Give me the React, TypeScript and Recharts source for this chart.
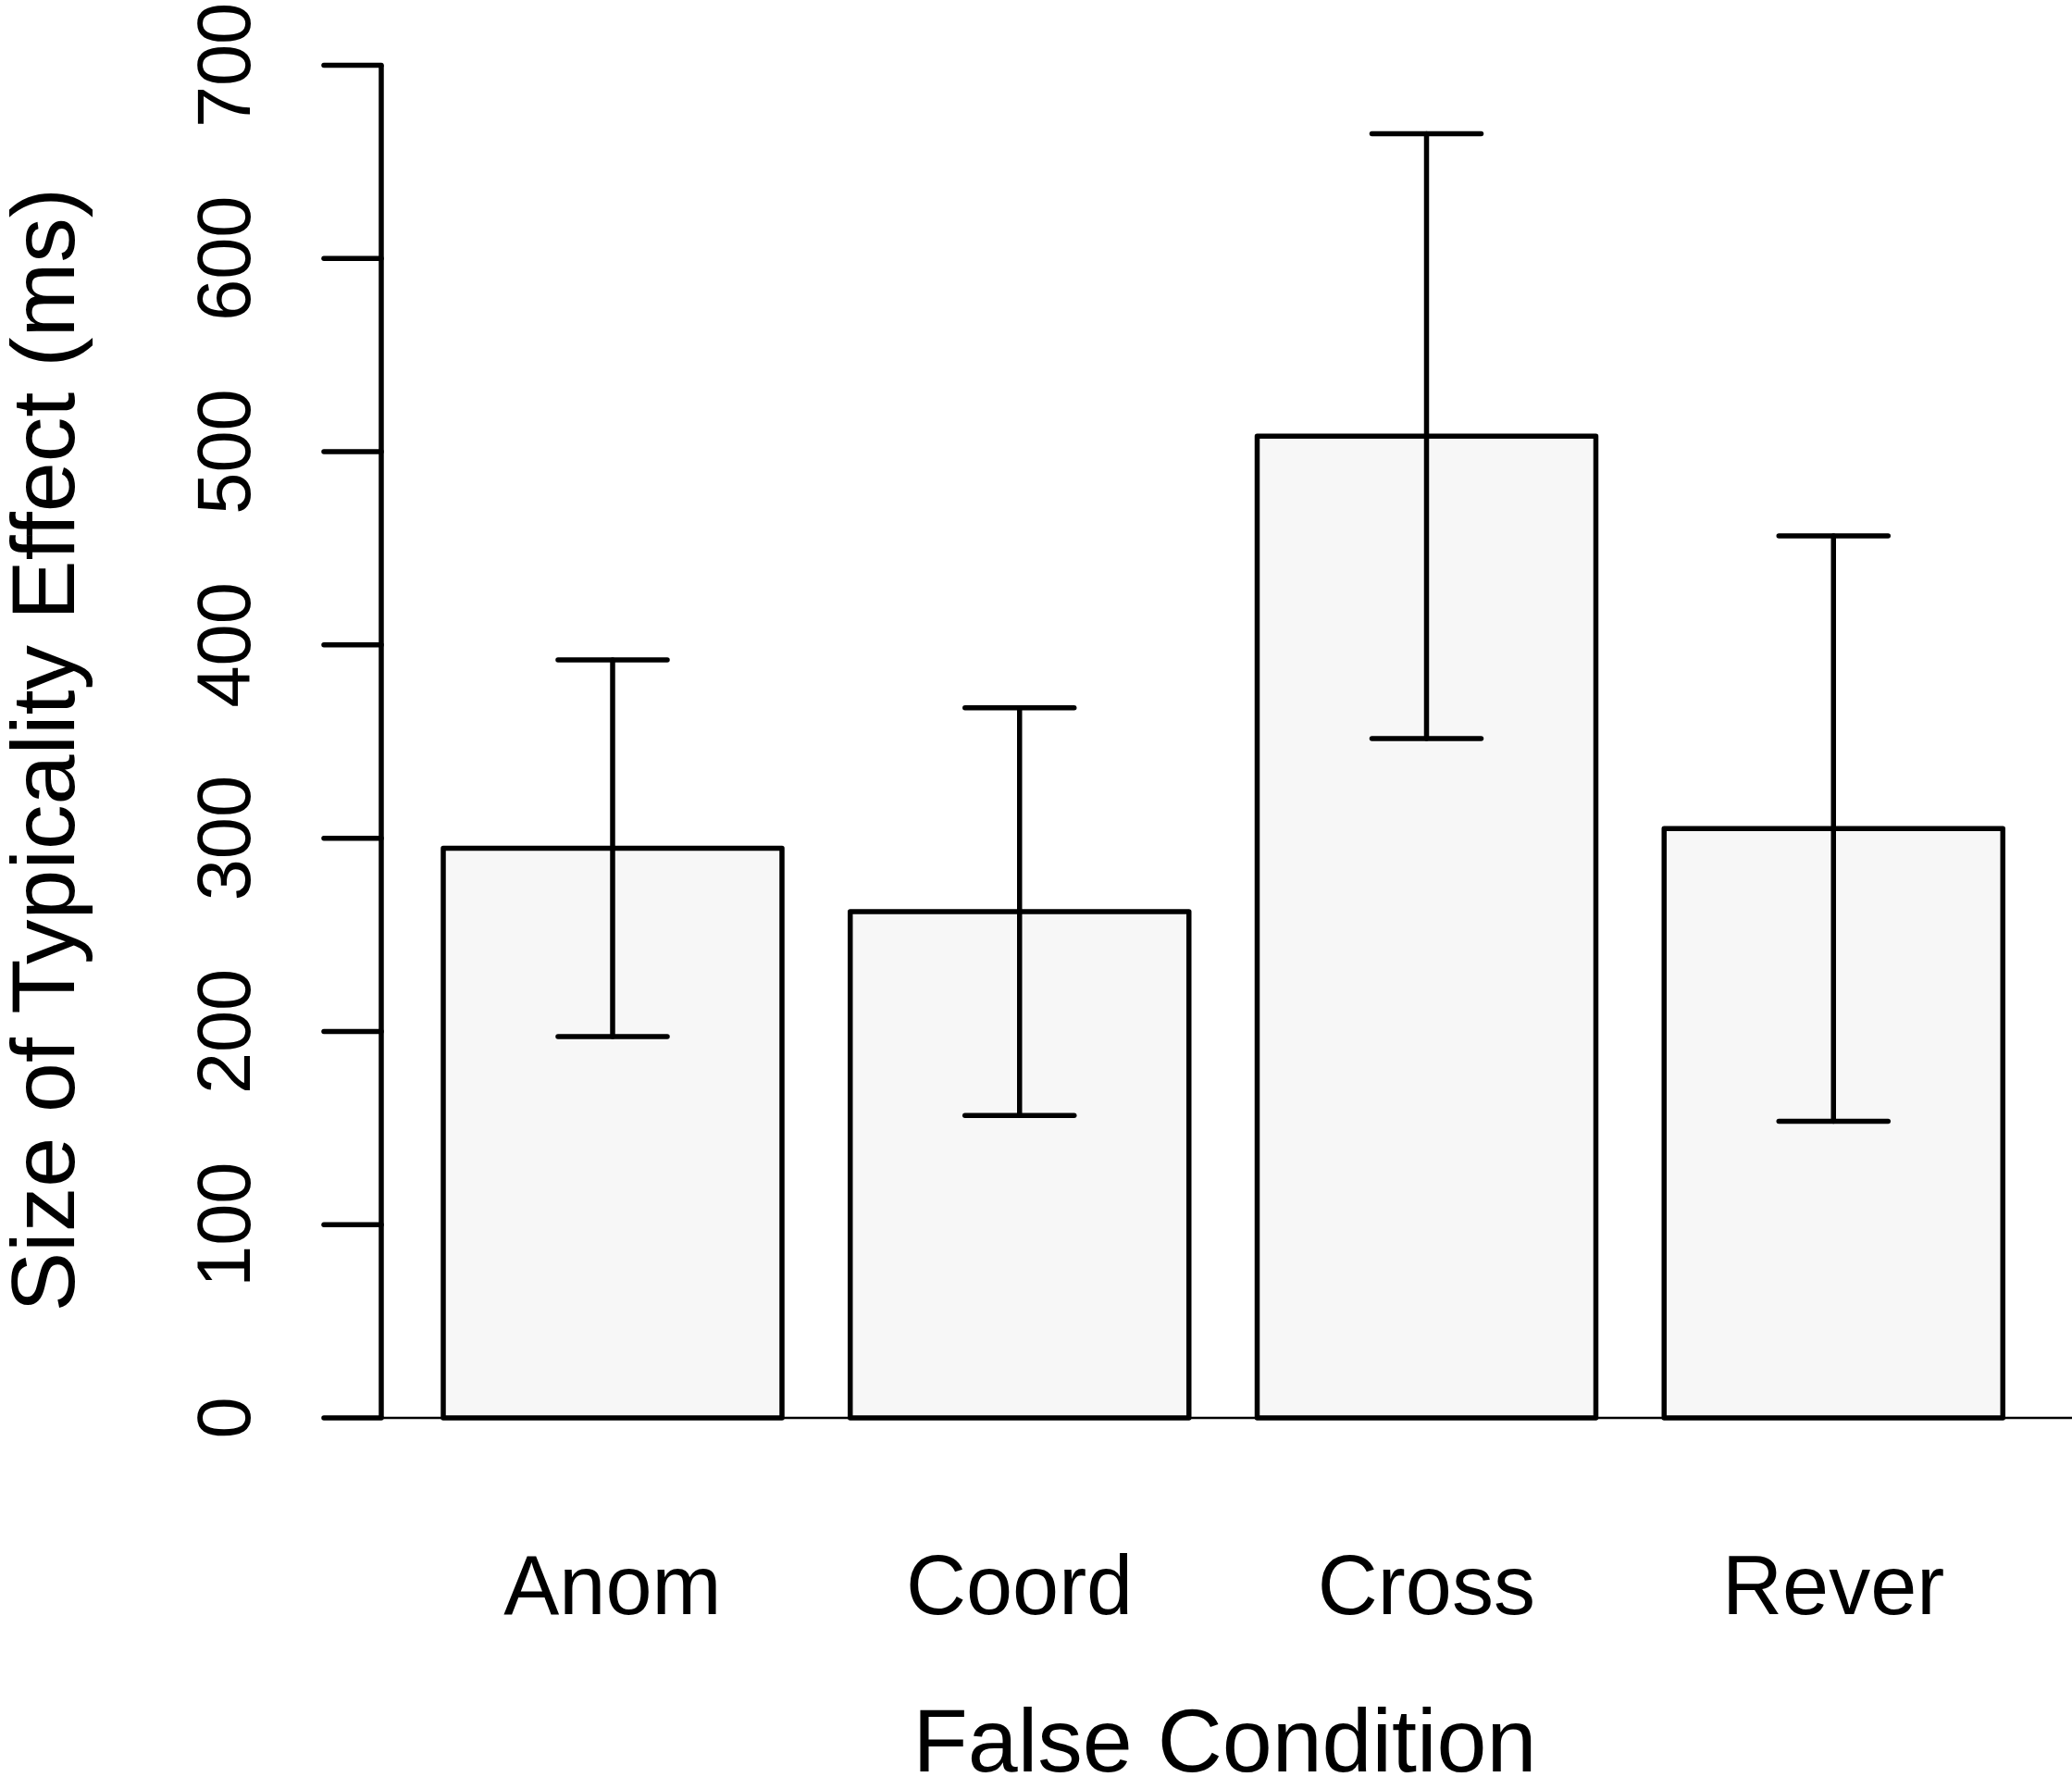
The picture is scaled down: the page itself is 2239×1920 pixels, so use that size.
import React from 'react';
import { BarChart, Bar, XAxis, YAxis, ErrorBar, ReferenceLine } from 'recharts';

const categories = ['Anom', 'Coord', 'Cross', 'Rever'];
const means = [294.8, 262, 508, 305];
const errors = [97.5, 105.5, 156.5, 151.5];
const yTicks = [0, 100, 200, 300, 400, 500, 600, 700];

const data = categories.map((c, i) => ({ cond: c, mean: means[i], err: errors[i] }));

const FONT = '"Liberation Sans", Arial, Helvetica, sans-serif';

const YTick = (props: any) => {
  const { x, y, payload } = props;
  const bx = x - 80;
  return (
    <text x={bx} y={y} transform={`rotate(-90, ${bx}, ${y})`} textAnchor="middle" fontSize={81} fontFamily={FONT} fill="#000">
      {payload.value}
    </text>
  );
};

const XTick = (props: any) => {
  const { x, y, payload } = props;
  return (
    <text x={x} y={y + 212} textAnchor="middle" fontSize={90} fontFamily={FONT} fill="#000">
      {payload.value}
    </text>
  );
};

const XTitle = (props: any) => {
  const vb = props.viewBox || { x: 412, y: 1532, width: 1827, height: 388 };
  const cx = vb.x + vb.width / 2 - 2;
  return (
    <text x={cx} y={vb.y + 382} textAnchor="middle" fontSize={97} fontFamily={FONT} fill="#000">
      False Condition
    </text>
  );
};

const YTitle = (props: any) => {
  const vb = props.viewBox || { x: 0, y: 70.5, width: 412, height: 1461.5 };
  const cy = vb.y + vb.height / 2 + 9;
  const bx = 80;
  return (
    <text x={bx} y={cy} transform={`rotate(-90, ${bx}, ${cy})`} textAnchor="middle" fontSize={97} fontFamily={FONT} fill="#000">
      Size of Typicality Effect (ms)
    </text>
  );
};

export default function App() {
  return (
    <div style={{ position: 'absolute', left: 0, top: 0, background: '#fff' }}>
      <BarChart width={2239} height={1920} data={data} margin={{ top: 70.5, right: 0, bottom: 0, left: 0 }}>
        <XAxis
          dataKey="cond"
          type="category"
          height={388}
          padding={{ left: 30, right: 38 }}
          axisLine={false}
          tickLine={false}
          tickSize={0}
          tickMargin={0}
          interval={0}
          tick={<XTick />}
          label={{ content: XTitle }}
        />
        <YAxis
          type="number"
          domain={[0, 700]}
          ticks={yTicks}
          interval={0}
          width={412}
          tickSize={62}
          tickMargin={0}
          axisLine={{ stroke: '#000', strokeWidth: 5.5 }}
          tickLine={{ stroke: '#000', strokeWidth: 5.5, strokeLinecap: 'round' }}
          tick={<YTick />}
          label={{ content: YTitle }}
        />
        <ReferenceLine y={0} stroke="#000" strokeWidth={2.5} />
        <Bar
          dataKey="mean"
          barSize={366}
          fill="#f7f7f7"
          stroke="#000"
          strokeWidth={5.5}
          strokeLinejoin="round"
          isAnimationActive={false}
        >
          <ErrorBar
            dataKey="err"
            width={59}
            stroke="#000"
            strokeWidth={5.5}
            strokeLinecap="round"
            isAnimationActive={false}
          />
        </Bar>
      </BarChart>
    </div>
  );
}
